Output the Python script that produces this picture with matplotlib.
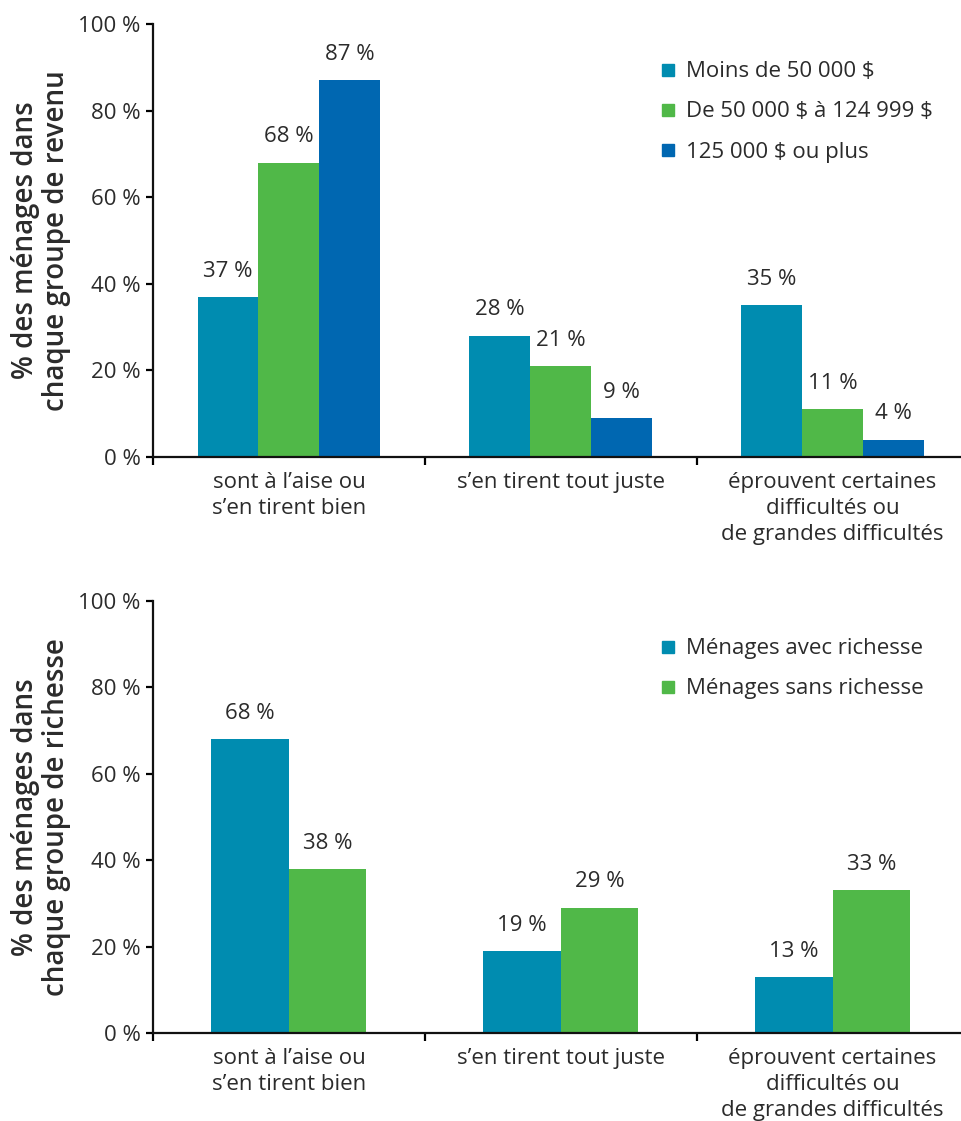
import matplotlib
matplotlib.use("Agg")
import matplotlib.pyplot as plt
from matplotlib.lines import Line2D
import numpy as np

plt.rcParams['font.family'] = ['Open Sans', 'DejaVu Sans']

categories = [
    "sont à l’aise ou\ns’en tirent bien",
    "s’en tirent tout juste",
    "éprouvent certaines\ndifficultés ou\nde grandes difficultés",
]

# Income groups
income_labels = [r"Moins de 50 000 \$", r"De 50 000 \$ à 124 999 \$", r"125 000 \$ ou plus"]
income_low = [37, 28, 35]
income_mid = [68, 21, 11]
income_high = [87, 9, 4]

# Wealth groups
wealth_labels = ["Ménages avec richesse", "Ménages sans richesse"]
with_wealth = [68, 19, 13]
without_wealth = [38, 29, 33]

yticks = [0, 20, 40, 60, 80, 100]
ytick_labels = ["0 %", "20 %", "40 %", "60 %", "80 %", "100 %"]

TEAL = "#008cb0"
GREEN = "#50b848"
BLUE = "#0067b1"
TXT = "#2b2b2b"
FS = 16

W, H = 961, 1121
fig = plt.figure(figsize=(W / 100, H / 100), dpi=100)


def px_axes(x0, x1, ytop, ybot):
    return fig.add_axes([x0 / W, 1 - ybot / H, (x1 - x0) / W, (ybot - ytop) / H])


def style(ax, ylabel, ytop, ybot):
    ax.set_ylim(0, 100)
    ax.set_xlim(-0.5, 2.48)
    for s in ("top", "right"):
        ax.spines[s].set_visible(False)
    for s in ("left", "bottom"):
        ax.spines[s].set_linewidth(1.6)
        ax.spines[s].set_color("#111111")
    ax.set_yticks(yticks)
    ax.set_yticklabels(ytick_labels, fontsize=FS, color=TXT)
    ax.tick_params(axis="y", direction="out", length=5, width=1.6, pad=4)
    ax.set_xticks([-0.5, 0.5, 1.5])
    ax.set_xticklabels([])
    ax.tick_params(axis="x", direction="out", length=6, width=1.6)
    x = np.arange(len(categories))
    for xi, lab in zip(x, categories):
        ax.annotate(lab, xy=(xi, 0), xycoords=("data", "axes fraction"),
                    xytext=(0, -11), textcoords="offset points",
                    ha="center", va="top", fontsize=FS, color=TXT,
                    linespacing=1.3)
    fig.text(41 / W, 1 - (ytop + ybot) / 2 / H, ylabel, rotation=90,
             ha="center", va="center", multialignment="center",
             fontsize=20, color=TXT, linespacing=1.08, fontweight="semibold")


def bar_labels(ax, bars, vals):
    for b, v in zip(bars, vals):
        ax.annotate(f"{v} %", xy=(b.get_x() + b.get_width() / 2, v),
                    xytext=(0, 11), textcoords="offset points",
                    ha="center", va="bottom", fontsize=FS, color=TXT)


def add_legend(ax, handles, labels):
    ax.legend(handles, labels, loc="upper left", bbox_to_anchor=(0.601, 0.96),
              frameon=False, fontsize=FS, handlelength=0.7, handletextpad=0.5,
              labelspacing=0.86, labelcolor=TXT)


x = np.arange(len(categories))

# Top chart: income groups
ax1 = px_axes(153, 963, 24, 457)
w1 = 0.224
series1 = [(income_low, TEAL), (income_mid, GREEN), (income_high, BLUE)]
for i, (vals, col) in enumerate(series1):
    bars = ax1.bar(x + (i - 1) * w1, vals, width=w1, color=col, linewidth=0)
    bar_labels(ax1, bars, vals)
style(ax1, "% des ménages dans\nchaque groupe de revenu", 24, 457)
h1 = [Line2D([], [], marker="s", linestyle="none", markersize=8.5, color=c)
      for _, c in series1]
add_legend(ax1, h1, income_labels)

# Bottom chart: wealth groups
ax2 = px_axes(153, 963, 601, 1033)
w2 = 0.285
series2 = [(with_wealth, TEAL), (without_wealth, GREEN)]
for i, (vals, col) in enumerate(series2):
    bars = ax2.bar(x + (i - 0.5) * w2, vals, width=w2, color=col, linewidth=0)
    bar_labels(ax2, bars, vals)
style(ax2, "% des ménages dans\nchaque groupe de richesse", 601, 1033)
h2 = [Line2D([], [], marker="s", linestyle="none", markersize=8.5, color=c)
      for _, c in series2]
add_legend(ax2, h2, wealth_labels)

fig.savefig("out.png", dpi=100)
